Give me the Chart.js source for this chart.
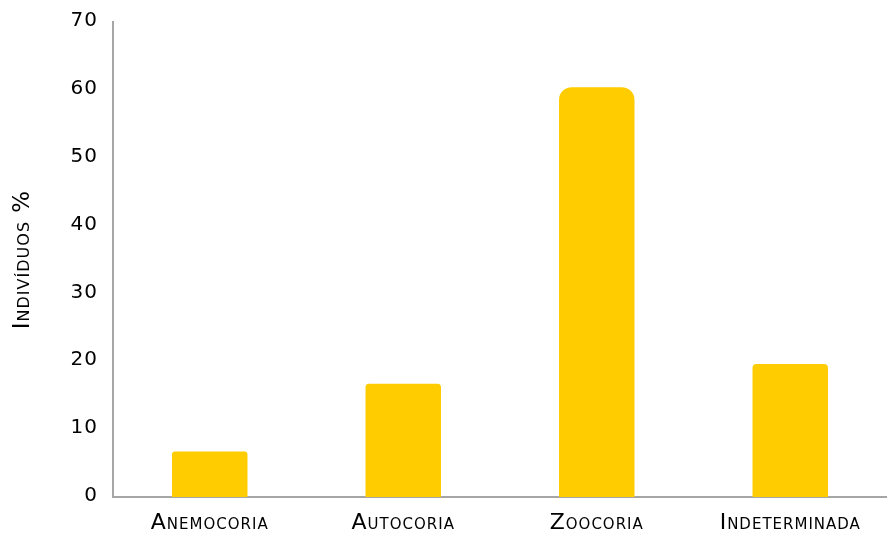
<!DOCTYPE html>
<html>
<head>
<meta charset="utf-8">
<script src="https://cdn.jsdelivr.net/npm/chart.js@4"></script>
<style>
	html, body { margin:0; padding:0; background:#fff; }
	#wrap { position:relative; width:887px; height:534px; }
</style>
</head>
<body>
<div id="wrap"><canvas id="c"></canvas></div>
<script>
const kategori = ['Anemocoria', 'Autocoria', 'Zoocoria', 'Indeterminada']
const nilai = [6.7, 16.7, 60.4, 19.6]
const yMax = 70
const yStep = 10
const judulY = 'Indivíduos %'

const abu = '#A6A6A6'
const kuning = '#FFCC00'
const huruf = "'DejaVu Sans', sans-serif"

// jarak antar huruf sedikit dilebarkan, mirip font aslinya
const spasiHuruf = {
	id: 'spasiHuruf',
	beforeDraw: c => { c.ctx.letterSpacing = '1px' },
}

new Chart(document.getElementById('c'), {
	type: 'bar',
	data: {
		labels: kategori,
		datasets: [{
			data: nilai,
			backgroundColor: kuning,
			borderWidth: 0,
			borderSkipped: 'bottom',
			// tutup bar makin bulat kalau bar makin tinggi (kesan silinder)
			borderRadius: ctx => {
				const r = Math.max(3, (ctx.raw || 0) * 0.21)
				return { topLeft: r, topRight: r }
			},
			categoryPercentage: 1,
			barPercentage: 0.39,
		}]
	},
	options: {
		responsive: true,
		maintainAspectRatio: false,
		animation: false,
		layout: { padding: { top: 22, right: 0, left: 0, bottom: 0 } },
		plugins: {
			legend: { display: false },
			tooltip: { enabled: false },
		},
		scales: {
			x: {
				grid: { display: false, drawTicks: false },
				border: { color: abu, width: 2 },
				ticks: {
					color: '#000',
					padding: 13,
					font: { family: huruf, size: 22, weight: 'small-caps' },
				},
				afterFit: s => { s.height = 37 },
			},
			y: {
				min: 0,
				max: yMax,
				grid: { display: false, drawTicks: false },
				border: { color: abu, width: 2 },
				ticks: {
					stepSize: yStep,
					color: '#000',
					padding: 15,
					labelOffset: -1,
					font: { family: huruf, size: 20 },
				},
				title: {
					display: true,
					text: judulY,
					color: '#000',
					padding: { top: 9, bottom: 0 },
					font: { family: huruf, size: 23, weight: 'small-caps' },
				},
				afterFit: s => {
					s.width = 113
					s.paddingTop = 0
					s.paddingBottom = 0
				},
			}
		}
	},
	plugins: [spasiHuruf]
})
</script>
</body>
</html>
